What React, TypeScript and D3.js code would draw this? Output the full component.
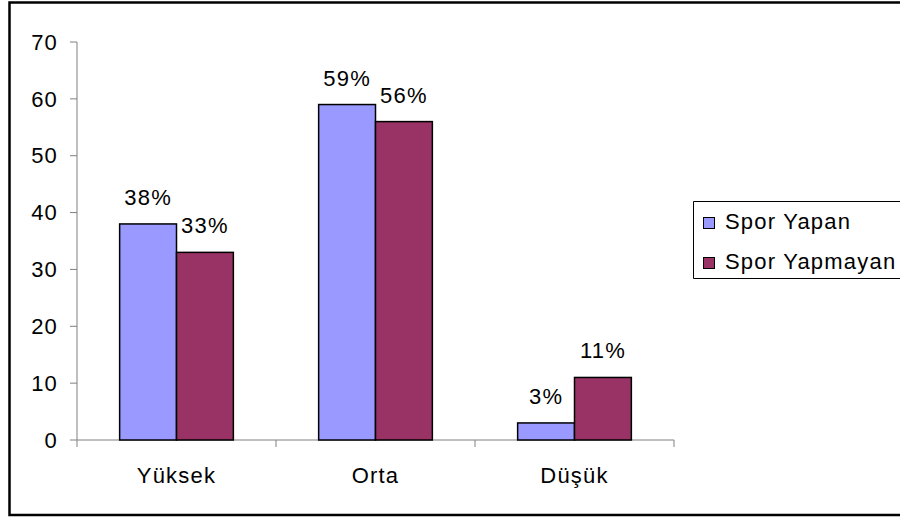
import React from "react";
import * as d3 from "d3";

const categories = ["Yüksek", "Orta", "Düşük"];
const seriesNames = ["Spor Yapan", "Spor Yapmayan"];
const sporYapan = [38, 59, 3];
const sporYapmayan = [33, 56, 11];
const yTicks = [0, 10, 20, 30, 40, 50, 60, 70];
const colors = ["#9999FF", "#993366"];

export default function App() {
  const W = 900, H = 517;
  const x0 = 77, x1 = 674, yTop = 42, yBot = 440;
  const x = d3.scaleBand<string>().domain(categories).range([x0, x1]).paddingInner(0).paddingOuter(0);
  const y = d3.scaleLinear().domain([0, 70]).range([yBot, yTop]);
  const bw = x.bandwidth();
  const barW = bw / 3.5;
  const series = [sporYapan, sporYapmayan];
  const font = "'Liberation Sans', Arial, sans-serif";
  const fs = 22;
  const ls = 1.2;
  return (
    <svg width={W} height={H} style={{ position: "absolute", left: 0, top: 0, fontFamily: font }}>
      <rect x={0} y={0} width={W} height={H} fill="#fff" />
      <path d={`M${W + 5},2.5 H9.5 V515 H${W + 5}`} fill="none" stroke="#000" strokeWidth={2.5} />
      {/* y axis */}
      <line x1={x0} x2={x0} y1={yTop} y2={yBot + 7} stroke="#808080" strokeWidth={1} />
      {yTicks.map((t) => (
        <g key={t}>
          <line x1={x0 - 7} x2={x0} y1={y(t)} y2={y(t)} stroke="#808080" />
          <text x={x0 - 19} y={y(t)} dy="0.35em" textAnchor="end" fontSize={fs} letterSpacing={ls}>{t}</text>
        </g>
      ))}
      {/* x axis */}
      <line x1={x0} x2={x1} y1={yBot} y2={yBot} stroke="#808080" />
      {categories.map((c) => (
        <line key={c} x1={(x(c) as number) + bw} x2={(x(c) as number) + bw} y1={yBot} y2={yBot + 7} stroke="#808080" />
      ))}
      {categories.map((c) => (
        <text key={c} x={(x(c) as number) + bw / 2} y={483} textAnchor="middle" fontSize={fs} letterSpacing={ls}>{c}</text>
      ))}
      {series.map((vals, si) =>
        vals.map((v, ci) => {
          const bx = (x(categories[ci]) as number) + bw / 2 - barW + si * barW;
          return (
            <g key={`${si}-${ci}`}>
              <rect x={bx} y={y(v)} width={barW} height={yBot - y(v)} fill={colors[si]} stroke="#000" strokeWidth={1.5} />
              <text x={bx + barW / 2} y={y(v) - 19} textAnchor="middle" fontSize={fs} letterSpacing={ls}>{v}%</text>
            </g>
          );
        })
      )}
      {/* legend */}
      <path d={`M${W + 5},201.5 H693.5 V278.5 H${W + 5}`} fill="#fff" stroke="#000" strokeWidth={1} />
      {seriesNames.map((n, i) => (
        <g key={n}>
          <rect x={703.5} y={217.5 + i * 40} width={11} height={11} fill={colors[i]} stroke="#000" strokeWidth={1} />
          <text x={725} y={229 + i * 40} fontSize={fs} letterSpacing={ls}>{n}</text>
        </g>
      ))}
    </svg>
  );
}
